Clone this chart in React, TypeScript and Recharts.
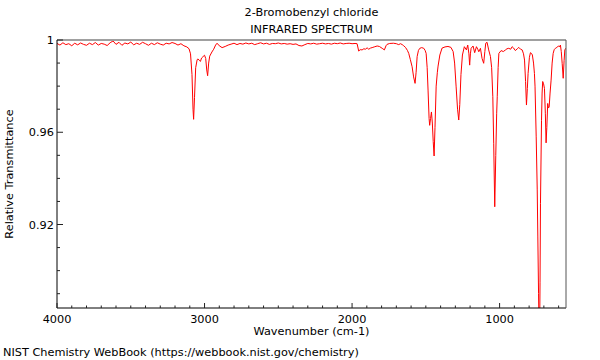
import { LineChart, Line, XAxis, YAxis } from 'recharts'

// [wavenumber cm-1, relative transmittance]
const highBaseline: Array<[number, number]> = [
  [4000, 0.9985], [3980, 0.9978], [3960, 0.9988], [3940, 0.998], [3920, 0.9984],
  [3900, 0.9975], [3880, 0.9986], [3860, 0.9979], [3840, 0.9987], [3820, 0.9981],
  [3800, 0.9977], [3780, 0.9986], [3760, 0.998], [3740, 0.9989], [3720, 0.9978],
  [3700, 0.9985], [3680, 0.9982], [3660, 0.9976], [3640, 0.9988], [3620, 0.9996],
  [3600, 0.9981], [3580, 0.999], [3560, 0.9977], [3540, 0.9987], [3520, 0.9983],
  [3500, 0.9991], [3480, 0.9979], [3460, 0.9986], [3440, 0.9981], [3420, 0.999],
  [3400, 0.9984], [3380, 0.9977], [3360, 0.9986], [3340, 0.998], [3320, 0.9988],
  [3300, 0.9982], [3280, 0.9978], [3260, 0.9986], [3240, 0.9983], [3220, 0.9989],
  [3200, 0.9985],
]

const chStretch: Array<[number, number]> = [
  [3180, 0.9978], [3160, 0.9984], [3140, 0.9975], [3120, 0.997], [3105, 0.9962],
  [3095, 0.994], [3085, 0.985], [3078, 0.97], [3074, 0.9656], [3068, 0.975],
  [3060, 0.988], [3050, 0.9915], [3044, 0.9918], [3036, 0.9912], [3028, 0.9907],
  [3020, 0.9922], [3010, 0.9928], [3000, 0.9934], [2992, 0.992], [2985, 0.987],
  [2979, 0.9845], [2972, 0.99], [2965, 0.993], [2950, 0.9948], [2938, 0.996],
  [2925, 0.9978], [2915, 0.9986], [2900, 0.9975], [2881, 0.9967], [2860, 0.9972],
  [2840, 0.9978],
]

const midBaseline: Array<[number, number]> = [
  [2820, 0.9982], [2800, 0.9986], [2780, 0.998], [2760, 0.9985], [2740, 0.9982],
  [2720, 0.9987], [2700, 0.9983], [2680, 0.9986], [2660, 0.998], [2640, 0.9984],
  [2620, 0.9988], [2600, 0.9983], [2580, 0.9986], [2560, 0.9981], [2540, 0.9985],
  [2520, 0.9984], [2500, 0.9987], [2480, 0.9983], [2460, 0.9985], [2440, 0.9982],
  [2420, 0.9984], [2400, 0.9981], [2380, 0.9983], [2360, 0.9976], [2340, 0.9974],
  [2320, 0.998], [2300, 0.9985], [2280, 0.9983], [2260, 0.9986], [2240, 0.9982],
  [2220, 0.9984], [2200, 0.9986], [2180, 0.9983], [2160, 0.9985], [2140, 0.9982],
  [2120, 0.9986], [2100, 0.9984], [2080, 0.9987], [2060, 0.9983], [2040, 0.9985],
  [2020, 0.9986], [2000, 0.9984], [1980, 0.9985], [1966, 0.9984],
]

const fingerprint: Array<[number, number]> = [
  [1955, 0.9952], [1945, 0.9958], [1932, 0.9957], [1920, 0.9962], [1910, 0.996],
  [1898, 0.9966], [1887, 0.996], [1875, 0.9965], [1864, 0.9967], [1850, 0.997],
  [1830, 0.9974], [1815, 0.9972], [1796, 0.9964], [1781, 0.9957], [1770, 0.9975],
  [1763, 0.9981], [1745, 0.9985], [1720, 0.9986], [1700, 0.9984], [1684, 0.998],
  [1672, 0.9984], [1660, 0.998], [1650, 0.9975], [1638, 0.9968], [1625, 0.9955],
  [1616, 0.9942], [1605, 0.9915], [1593, 0.9884], [1583, 0.984], [1573, 0.9812],
  [1566, 0.986], [1559, 0.9928], [1550, 0.9955], [1541, 0.9964], [1528, 0.9967],
  [1514, 0.9964], [1505, 0.9955], [1498, 0.9942], [1491, 0.988], [1485, 0.9783],
  [1478, 0.966], [1474, 0.963], [1468, 0.966], [1462, 0.9688], [1456, 0.964],
  [1450, 0.956], [1444, 0.9497], [1438, 0.962], [1430, 0.98], [1422, 0.986],
  [1417, 0.9887], [1405, 0.9935], [1390, 0.9965], [1370, 0.997], [1350, 0.9972],
  [1330, 0.9968], [1315, 0.995], [1305, 0.99], [1295, 0.98], [1285, 0.97],
  [1277, 0.9653], [1270, 0.972], [1262, 0.985], [1252, 0.9935], [1239, 0.9971],
  [1225, 0.9957], [1216, 0.9978], [1208, 0.994], [1203, 0.9891], [1198, 0.994],
  [1193, 0.9964], [1180, 0.9974], [1169, 0.9945], [1157, 0.9971], [1148, 0.996],
  [1141, 0.9949], [1130, 0.9964], [1119, 0.992], [1108, 0.9899], [1100, 0.995],
  [1094, 0.9986], [1085, 0.999], [1074, 0.9957], [1062, 0.9928], [1054, 0.988],
  [1046, 0.9754], [1040, 0.955], [1033, 0.9277], [1026, 0.95], [1020, 0.968],
  [1016, 0.9754], [1010, 0.988], [1005, 0.9942], [990, 0.9954], [975, 0.995],
  [960, 0.9957], [950, 0.9962], [938, 0.9964], [925, 0.996], [915, 0.9971],
  [905, 0.9965], [893, 0.9954], [880, 0.9962], [870, 0.9968], [858, 0.996],
  [847, 0.9957], [838, 0.994], [831, 0.9913], [824, 0.982], [818, 0.9718],
  [812, 0.979], [807, 0.9855], [798, 0.9925], [791, 0.9945], [784, 0.9942],
  [778, 0.9935], [770, 0.99], [764, 0.9855], [760, 0.98], [752, 0.958],
  [745, 0.935], [741, 0.915], [736, 0.89], [730, 0.86], [726, 0.895],
  [723, 0.929], [716, 0.965], [712, 0.977], [708, 0.982], [702, 0.981],
  [696, 0.979], [690, 0.968], [685, 0.9554], [680, 0.962], [674, 0.9725],
  [669, 0.9705], [664, 0.971], [658, 0.977], [651, 0.9826], [644, 0.99],
  [637, 0.9942], [630, 0.9958], [622, 0.9964], [612, 0.9968], [605, 0.9972],
  [599, 0.9974], [593, 0.997], [588, 0.9978], [582, 0.995], [576, 0.9899],
  [569, 0.9834], [563, 0.991], [558, 0.9957], [551, 0.9964], [550, 0.9962],
]

const xTicks = [
  600, 700, 800, 900, 1000, 1100, 1200, 1300, 1400, 1500, 1600, 1700, 1800, 1900,
  2000, 2100, 2200, 2300, 2400, 2500, 2600, 2700, 2800, 2900, 3000, 3100, 3200,
  3300, 3400, 3500, 3600, 3700, 3800, 3900, 4000,
]
const yTicks = [0.89, 0.9, 0.91, 0.92, 0.93, 0.94, 0.95, 0.96, 0.97, 0.98, 0.99, 1]

const data = [...highBaseline, ...chStretch, ...midBaseline, ...fingerprint].map(([wn, t]) => ({ wn, t }))

const FONT = '"DejaVu Sans", sans-serif'
const FS = 11.3

function XTick({ x, y, payload }: any) {
  const v = payload.value
  const major = v % 1000 === 0
  return (
    <g>
      <line x1={x} x2={x} y1={y} y2={y - (major ? 5 : 2.5)} stroke="#222" />
      {major && (
        <text x={x} y={y + 15} textAnchor="middle" fontFamily={FONT} fontSize={FS} fill="#000">
          {v}
        </text>
      )}
    </g>
  )
}

function YTick({ x, y, payload }: any) {
  const v = payload.value
  const major = Math.round(v * 100) % 4 === 0
  return (
    <g>
      <line x1={x} x2={x + (major ? 6 : 3)} y1={y} y2={y} stroke="#222" />
      {major && (
        <text x={x - 3} y={y + 4} textAnchor="end" fontFamily={FONT} fontSize={FS} fill="#000">
          {v === 1 ? '1' : v.toFixed(2)}
        </text>
      )}
    </g>
  )
}

const txt: React.CSSProperties = {
  position: 'absolute',
  fontFamily: FONT,
  fontSize: FS,
  lineHeight: '14px',
  color: '#000',
  whiteSpace: 'nowrap',
}

export default function App() {
  return (
    <div style={{ position: 'absolute', left: 0, top: 0, width: 600, height: 360, background: '#fff' }}>
      <LineChart width={600} height={360} data={data} margin={{ top: 0, right: 0, bottom: 0, left: 0 }}>
        <XAxis
          dataKey="wn"
          type="number"
          domain={[550, 4000]}
          reversed
          allowDataOverflow
          ticks={xTicks}
          interval={0}
          tickSize={0}
          tickMargin={0}
          tickLine={false}
          height={52}
          axisLine={{ stroke: '#000' }}
          tick={<XTick />}
        />
        <XAxis
          xAxisId="top"
          orientation="top"
          type="number"
          domain={[550, 4000]}
          reversed
          tick={false}
          tickLine={false}
          height={40}
          axisLine={{ stroke: '#a0a0a0', strokeWidth: 2 }}
        />
        <YAxis
          type="number"
          domain={[0.8838, 1]}
          allowDataOverflow
          ticks={yTicks}
          interval={0}
          tickSize={0}
          tickMargin={0}
          tickLine={false}
          width={57}
          axisLine={{ stroke: '#000' }}
          tick={<YTick />}
        />
        <YAxis
          yAxisId="right"
          orientation="right"
          type="number"
          domain={[0.8838, 1]}
          tick={false}
          tickLine={false}
          width={34}
          axisLine={{ stroke: '#555' }}
        />
        <Line
          dataKey="t"
          type="linear"
          stroke="#ff0000"
          strokeWidth={1}
          dot={false}
          activeDot={false}
          isAnimationActive={false}
        />
      </LineChart>
      <div style={{ ...txt, left: 211.5, width: 200, textAlign: 'center', top: 6 }}>2-Bromobenzyl chloride</div>
      <div style={{ ...txt, left: 211.5, width: 200, textAlign: 'center', top: 23 }}>INFRARED SPECTRUM</div>
      <div style={{ ...txt, left: 211.5, width: 200, textAlign: 'center', top: 325 }}>Wavenumber (cm-1)</div>
      <div
        style={{
          ...txt,
          left: -90,
          top: 167,
          width: 200,
          height: 14,
          textAlign: 'center',
          transform: 'rotate(-90deg)',
          transformOrigin: 'center',
        }}
      >
        Relative Transmittance
      </div>
      <div style={{ ...txt, left: 3, top: 346 }}>NIST Chemistry WebBook (https://webbook.nist.gov/chemistry)</div>
    </div>
  )
}
